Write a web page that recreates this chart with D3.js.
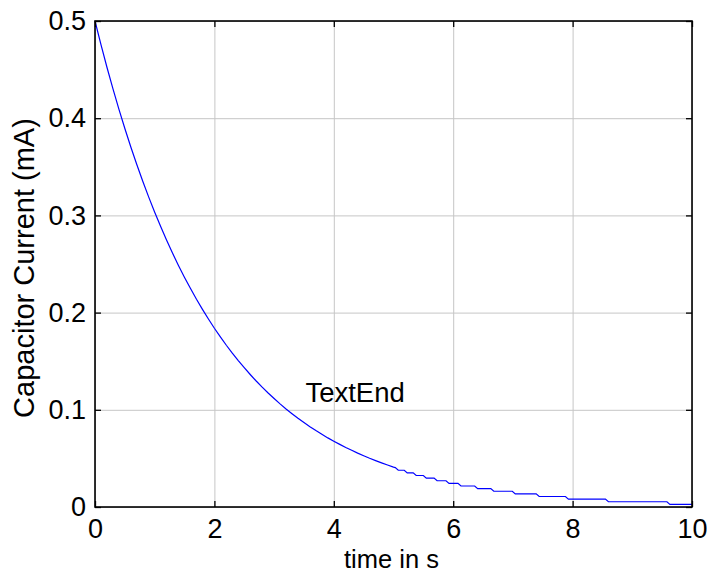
<!doctype html>
<html>
<head>
<meta charset="UTF-8">
<title>capacitor current</title>
<script src="https://d3js.org/d3.v7.min.js"></script>
<style>
  body{ margin:0; background:#fff; }
  text{ font-family: Arial, "Liberation Sans", sans-serif; fill:#000; }
</style>
</head>
<body>
<svg width="707" height="573" id="svg1"></svg>
<script>
// values (time in s, current in mA)
var timeS = [0,0.1,0.2,0.3,0.4,0.5,0.6,0.7,0.8,0.9,
             1.0,1.1,1.2,1.3,1.4,1.5,1.6,1.7,1.8,1.9,
             2.0,2.1,2.2,2.3,2.4,2.5,2.6,2.7,2.8,2.9,
             3.0,3.1,3.2,3.3,3.4,3.5,3.6,3.7,3.8,3.9,
             4.0,4.1,4.2,4.3,4.4,4.5,4.6,4.7,4.8,4.9,5.0,
             5.03,5.08,5.18,5.23,5.33,5.38,5.50,5.55,5.68,5.73,5.88,5.93,
             6.08,6.13,6.36,6.41,6.63,6.68,6.99,7.04,7.39,7.44,7.88,7.93,
             8.55,8.60,9.58,9.63,10.0];
var currentMA = [0.5000,0.4756,0.4524,0.4304,0.4094,0.3894,0.3704,0.3523,0.3352,0.3188,
                 0.3033,0.2885,0.2744,0.2610,0.2483,0.2362,0.2247,0.2137,0.2033,0.1934,
                 0.1839,0.1750,0.1664,0.1583,0.1506,0.1433,0.1363,0.1296,0.1233,0.1173,
                 0.1116,0.1061,0.1009,0.0960,0.0913,0.0869,0.0826,0.0786,0.0748,0.0711,
                 0.0677,0.0644,0.0612,0.0583,0.0554,0.0527,0.0501,0.0477,0.0454,0.0432,0.0410,
                 0.0405,0.0378,0.0378,0.0351,0.0351,0.0324,0.0324,0.0297,0.0297,0.0270,0.0270,0.0243,
                 0.0243,0.0216,0.0216,0.0189,0.0189,0.0162,0.0162,0.0135,0.0135,0.0108,0.0108,0.0081,
                 0.0081,0.0054,0.0054,0.0027,0.0027];
var xTicks = [0,2,4,6,8,10];
var xTickLabels = ["0","2","4","6","8","10"];
var yTicks = [0,0.1,0.2,0.3,0.4,0.5];
var yTickLabels = ["0","0.1","0.2","0.3","0.4","0.5"];
var noteText = ["TextEnd"];
var notePos = [3.5, 0.1];

var pLeft = 95, pRight = 692, pTop = 21, pBottom = 507;
var tickFs = 27, labelFs = 25.5, yLabelFs = 29, noteFs = 27.5;

var svg = d3.select("#svg1");
var x = d3.scaleLinear().domain([0,10]).range([pLeft,pRight]);
var y = d3.scaleLinear().domain([0,0.5]).range([pBottom,pTop]);

// grid
svg.append("g").attr("transform","translate(0,"+pBottom+")")
   .call(d3.axisBottom(x).tickValues(xTicks).tickSize(-(pBottom-pTop)).tickFormat(""))
   .call(function(g){ g.select(".domain").remove(); g.selectAll("line").attr("stroke","#c6c6c6"); });
svg.append("g").attr("transform","translate("+pLeft+",0)")
   .call(d3.axisLeft(y).tickValues(yTicks).tickSize(-(pRight-pLeft)).tickFormat(""))
   .call(function(g){ g.select(".domain").remove(); g.selectAll("line").attr("stroke","#c6c6c6"); });

// curve
var pts = timeS.map(function(t,i){ return [t, currentMA[i]]; });
var line = d3.line().x(function(d){ return x(d[0]); }).y(function(d){ return y(d[1]); });
svg.append("path").datum(pts)
   .attr("d", line)
   .attr("fill","none")
   .attr("stroke","#0000ff")
   .attr("stroke-width",1.2);

// axes with inward ticks
function styleAxis(g){
  g.select(".domain").remove();
  g.selectAll("line").attr("stroke","#000").attr("stroke-width",1.3);
  g.selectAll("text").attr("font-size",tickFs).attr("font-family","Arial, 'Liberation Sans', sans-serif");
}
svg.append("g").attr("transform","translate(0,"+pBottom+")")
   .call(d3.axisBottom(x).tickValues(xTicks).tickSize(-6).tickPadding(12)
         .tickFormat(function(d,i){ return xTickLabels[i]; }))
   .call(styleAxis);
svg.append("g").attr("transform","translate(0,"+pTop+")")
   .call(d3.axisTop(x).tickValues(xTicks).tickSize(-6).tickFormat(""))
   .call(styleAxis);
svg.append("g").attr("transform","translate("+pLeft+",0)")
   .call(d3.axisLeft(y).tickValues(yTicks).tickSize(-6).tickPadding(9)
         .tickFormat(function(d,i){ return yTickLabels[i]; }))
   .call(styleAxis);
svg.append("g").attr("transform","translate("+pRight+",0)")
   .call(d3.axisRight(y).tickValues(yTicks).tickSize(-6).tickFormat(""))
   .call(styleAxis);

// box
svg.append("rect")
   .attr("x",pLeft).attr("y",pTop)
   .attr("width",pRight-pLeft).attr("height",pBottom-pTop)
   .attr("fill","none").attr("stroke","#000").attr("stroke-width",1.6);

// labels
svg.append("text")
   .attr("x",(pLeft+pRight)/2 - 2).attr("y",568)
   .attr("text-anchor","middle").attr("font-size",labelFs)
   .text("time in s");
svg.append("text")
   .attr("transform","translate(34,268) rotate(-90)")
   .attr("text-anchor","middle").attr("font-size",yLabelFs)
   .text("Capacitor Current (mA)");

svg.selectAll(".note").data(noteText).enter()
   .append("text").attr("class","note")
   .attr("x", x(notePos[0]) + 1.5).attr("y", y(notePos[1]) - 8)
   .attr("font-size",noteFs)
   .text(function(d){ return d; });
</script>
</body>
</html>
